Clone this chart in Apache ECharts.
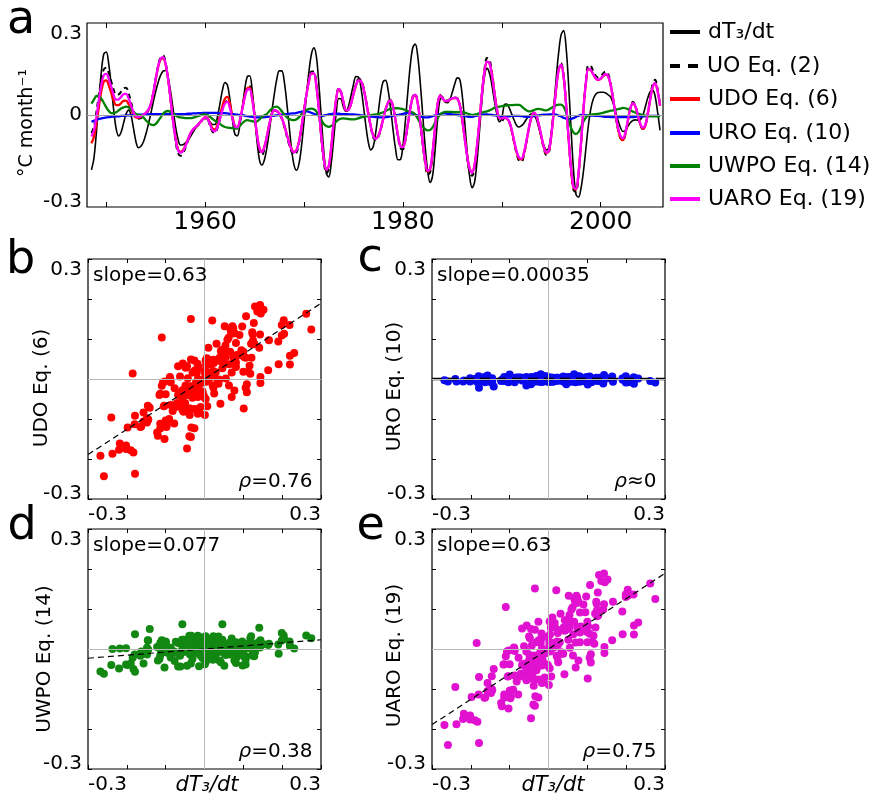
<!DOCTYPE html>
<html><head><meta charset="utf-8">
<script src="https://cdn.jsdelivr.net/npm/echarts@6/dist/echarts.min.js"></script>
<style>html,body{margin:0;padding:0;background:#fff}#c{width:872px;height:796px}</style>
</head><body><div id="c"></div>
<script>
// quarterly sampling grid: 1948.5, 1948.75, ... 2006.0
const FIRST_YEAR = 1948.5, STEP = 0.25, N = 231;

const dT3dt = [
-0.179,-0.141,
-0.057,0.046,0.141,0.199,
0.205,0.166,0.095,0.016,
-0.045,-0.068,-0.056,-0.026,
0.003,0.016,0.000,-0.043,
-0.087,-0.107,-0.102,-0.088,
-0.063,-0.031,0.004,0.042,
0.077,0.107,0.130,0.143,
0.145,0.123,0.077,0.021,
-0.037,-0.078,-0.098,-0.097,
-0.091,-0.082,-0.071,-0.057,
-0.044,-0.032,-0.021,-0.014,
-0.011,-0.013,-0.023,-0.031,
-0.031,-0.005,0.038,0.081,
0.106,0.098,0.051,-0.014,
-0.062,-0.068,-0.035,0.022,
0.083,0.125,0.128,0.082,
0.000,-0.087,-0.148,-0.163,
-0.145,-0.105,-0.050,0.013,
0.070,0.118,0.144,0.144,
0.109,0.041,-0.038,-0.114,
-0.165,-0.180,-0.157,-0.100,
-0.020,0.066,0.143,0.199,
0.219,0.190,0.100,-0.010,
-0.120,-0.190,-0.202,-0.157,
-0.077,0.006,0.054,0.052,
0.024,0.012,0.029,0.064,
0.100,0.125,0.124,0.090,
0.031,-0.035,-0.089,-0.114,
-0.103,-0.057,0.007,0.070,
0.109,0.113,0.081,0.023,
-0.048,-0.110,-0.146,-0.145,
-0.100,-0.018,0.077,0.164,
0.220,0.231,0.191,0.106,
0.001,-0.103,-0.183,-0.220,
-0.198,-0.116,-0.017,0.051,
0.055,0.043,0.040,0.050,
0.075,0.102,0.121,0.116,
0.063,-0.025,-0.122,-0.202,
-0.237,-0.218,-0.148,-0.049,
0.051,0.127,0.152,0.136,
0.097,0.046,0.002,-0.022,
-0.009,0.033,0.036,0.023,
0.003,-0.017,-0.034,-0.039,
-0.035,-0.026,-0.013,-0.002,
0.004,0.002,-0.015,-0.043,
-0.074,-0.099,-0.114,-0.107,
-0.058,0.024,0.120,0.204,
0.262,0.275,0.220,0.101,
-0.045,-0.179,-0.259,-0.268,
-0.240,-0.185,-0.110,-0.035,
0.020,0.052,0.068,0.073,
0.074,0.074,0.072,0.066,
0.059,0.039,0.012,-0.017,
-0.041,-0.054,-0.050,-0.037,
-0.025,-0.018,-0.016,-0.017,
-0.015,-0.002,0.025,0.055,
0.076,0.081,0.062,0.010,
-0.050];

const UO = [
-0.059,-0.038,
0.010,0.066,0.117,0.149,
0.154,0.137,0.110,0.082,
0.066,0.067,0.076,0.087,
0.089,0.072,0.043,0.013,
-0.008,-0.012,-0.010,-0.004,
0.003,0.014,0.035,0.073,
0.120,0.163,0.189,0.194,
0.171,0.120,0.050,-0.022,
-0.084,-0.124,-0.133,-0.126,
-0.108,-0.085,-0.063,-0.050,
-0.042,-0.035,-0.026,-0.015,
-0.009,-0.014,-0.036,-0.055,
-0.058,-0.042,-0.013,0.018,
0.040,0.046,0.025,-0.011,
-0.040,-0.044,-0.022,0.020,
0.062,0.092,0.094,0.058,
-0.003,-0.072,-0.120,-0.131,
-0.111,-0.074,-0.031,0.002,
0.015,0.012,0.003,-0.013,
-0.038,-0.069,-0.098,-0.121,
-0.130,-0.122,-0.091,-0.042,
0.014,0.071,0.117,0.142,
0.142,0.098,0.018,-0.076,
-0.152,-0.190,-0.177,-0.112,
-0.025,0.054,0.088,0.075,
0.041,0.014,0.016,0.037,
0.070,0.100,0.117,0.115,
0.092,0.051,0.004,-0.041,
-0.073,-0.083,-0.073,-0.048,
-0.014,0.019,0.043,0.050,
0.029,-0.019,-0.072,-0.109,
-0.112,-0.083,-0.031,0.023,
0.061,0.069,0.039,-0.024,
-0.096,-0.159,-0.195,-0.187,
-0.128,-0.042,0.034,0.066,
0.058,0.047,0.047,0.052,
0.056,0.057,0.055,0.034,
-0.018,-0.080,-0.143,-0.186,
-0.198,-0.171,-0.104,-0.017,
0.075,0.150,0.186,0.181,
0.140,0.076,0.017,-0.018,
-0.020,-0.010,-0.012,-0.023,
-0.053,-0.092,-0.127,-0.150,
-0.152,-0.129,-0.088,-0.043,
-0.007,0.008,-0.003,-0.035,
-0.074,-0.110,-0.130,-0.124,
-0.071,0.009,0.091,0.152,
0.169,0.129,0.037,-0.077,
-0.180,-0.245,-0.250,-0.198,
-0.099,0.015,0.110,0.162,
0.160,0.143,0.128,0.122,
0.126,0.136,0.142,0.135,
0.104,0.056,0.001,-0.047,
-0.076,-0.083,-0.062,-0.018,
0.024,0.043,0.031,0.000,
-0.031,-0.045,-0.036,0.003,
0.055,0.101,0.115,0.086,
0.034];

const UDO = [
-0.092,-0.072,
-0.028,0.027,0.078,0.109,
0.113,0.097,0.072,0.047,
0.032,0.032,0.039,0.046,
0.047,0.036,0.019,0.002,
-0.008,-0.009,-0.006,0.000,
0.006,0.016,0.035,0.070,
0.115,0.157,0.181,0.185,
0.164,0.117,0.052,-0.016,
-0.074,-0.111,-0.120,-0.115,
-0.100,-0.080,-0.060,-0.048,
-0.040,-0.033,-0.024,-0.014,
-0.007,-0.010,-0.028,-0.044,
-0.047,-0.031,-0.001,0.030,
0.053,0.059,0.037,-0.003,
-0.035,-0.040,-0.019,0.020,
0.060,0.087,0.089,0.056,
-0.002,-0.065,-0.109,-0.119,
-0.102,-0.068,-0.028,0.004,
0.016,0.013,0.005,-0.010,
-0.033,-0.062,-0.090,-0.112,
-0.120,-0.113,-0.084,-0.038,
0.015,0.068,0.111,0.135,
0.135,0.094,0.018,-0.070,
-0.142,-0.178,-0.166,-0.106,
-0.023,0.052,0.084,0.072,
0.040,0.015,0.017,0.037,
0.068,0.096,0.112,0.110,
0.088,0.049,0.005,-0.037,
-0.067,-0.077,-0.068,-0.045,
-0.013,0.018,0.041,0.048,
0.028,-0.017,-0.067,-0.101,
-0.104,-0.077,-0.029,0.022,
0.058,0.065,0.037,-0.022,
-0.090,-0.150,-0.184,-0.177,
-0.121,-0.040,0.033,0.063,
0.055,0.045,0.045,0.050,
0.054,0.055,0.053,0.033,
-0.016,-0.075,-0.134,-0.175,
-0.187,-0.161,-0.098,-0.016,
0.071,0.140,0.173,0.169,
0.131,0.073,0.021,-0.009,
-0.010,-0.008,-0.012,-0.022,
-0.050,-0.087,-0.121,-0.143,
-0.145,-0.123,-0.084,-0.041,
-0.007,0.007,-0.003,-0.033,
-0.070,-0.105,-0.124,-0.118,
-0.068,0.009,0.088,0.147,
0.163,0.124,0.036,-0.074,
-0.174,-0.237,-0.243,-0.192,
-0.096,0.014,0.104,0.150,
0.146,0.132,0.119,0.114,
0.118,0.127,0.132,0.126,
0.098,0.053,0.001,-0.045,
-0.074,-0.082,-0.060,-0.018,
0.021,0.038,0.028,0.000,
-0.030,-0.045,-0.036,0.001,
0.049,0.090,0.103,0.078,
0.030];

const URO = [
-0.022,-0.019,
-0.016,-0.013,-0.011,-0.009,
-0.008,-0.007,-0.006,-0.005,
-0.004,-0.004,-0.003,-0.003,
-0.002,-0.001,-0.001,0.000,
0.000,0.001,0.001,0.002,
0.002,0.002,0.003,0.003,
0.003,0.003,0.003,0.003,
0.003,0.003,0.003,0.003,
0.003,0.003,0.003,0.003,
0.003,0.004,0.004,0.005,
0.005,0.006,0.006,0.007,
0.007,0.007,0.007,0.007,
0.007,0.007,0.006,0.006,
0.006,0.005,0.004,0.003,
0.002,0.001,0.000,0.000,
-0.002,-0.004,-0.005,-0.006,
-0.007,-0.008,-0.008,-0.008,
-0.007,-0.006,-0.004,-0.003,
-0.002,-0.001,0.000,0.001,
0.002,0.003,0.004,0.005,
0.005,0.007,0.009,0.011,
0.012,0.012,0.010,0.007,
0.004,0.001,-0.002,-0.003,
-0.002,0.000,0.002,0.003,
0.004,0.004,0.004,0.003,
0.003,0.003,0.002,0.002,
0.002,0.001,0.000,-0.001,
-0.002,-0.003,-0.004,-0.005,
-0.006,-0.007,-0.007,-0.008,
-0.008,-0.007,-0.006,-0.004,
-0.003,-0.001,0.000,0.002,
0.004,0.006,0.007,0.006,
0.004,0.001,-0.002,-0.005,
-0.007,-0.008,-0.008,-0.006,
-0.004,-0.001,0.001,0.003,
0.005,0.005,0.004,0.003,
0.002,0.001,0.000,-0.001,
-0.002,-0.004,-0.005,-0.006,
-0.006,-0.004,-0.002,0.000,
0.001,0.002,0.002,0.001,
0.000,-0.001,-0.002,-0.003,
-0.004,-0.004,-0.004,-0.004,
-0.003,-0.003,-0.003,-0.003,
-0.004,-0.005,-0.006,-0.006,
-0.005,-0.004,-0.002,-0.001,
0.000,0.001,0.001,0.002,
0.002,0.002,0.001,-0.002,
-0.005,-0.009,-0.012,-0.014,
-0.013,-0.010,-0.006,-0.003,
0.000,0.000,-0.001,-0.001,
-0.002,-0.002,-0.003,-0.003,
-0.004,-0.005,-0.006,-0.006,
-0.007,-0.007,-0.007,-0.007,
-0.007,-0.007,-0.007,-0.007,
-0.007,-0.007,-0.006,-0.005,
-0.005,-0.004,-0.004,-0.003,
-0.003,-0.003,-0.003,-0.003,
-0.003];

const UWPO = [
0.037,0.050,
0.062,0.062,0.053,0.040,
0.025,0.013,0.006,0.006,
0.009,0.015,0.021,0.025,
0.027,0.025,0.018,0.010,
0.003,0.000,-0.002,-0.008,
-0.017,-0.025,-0.031,-0.033,
-0.029,-0.019,-0.008,0.004,
0.011,0.013,0.010,0.005,
-0.001,-0.006,-0.008,-0.009,
-0.010,-0.010,-0.010,-0.009,
-0.007,-0.004,-0.001,0.001,
0.002,0.000,-0.006,-0.013,
-0.019,-0.023,-0.029,-0.035,
-0.039,-0.041,-0.042,-0.043,
-0.044,-0.044,-0.036,-0.027,
-0.020,-0.017,-0.018,-0.020,
-0.022,-0.021,-0.014,-0.006,
-0.001,0.004,0.013,0.021,
0.026,0.027,0.022,0.012,
0.002,-0.007,-0.013,-0.016,
-0.017,-0.014,-0.007,0.002,
0.010,0.016,0.020,0.021,
0.019,0.011,-0.002,-0.017,
-0.029,-0.036,-0.039,-0.036,
-0.030,-0.022,-0.015,-0.012,
-0.011,-0.012,-0.013,-0.014,
-0.014,-0.013,-0.011,-0.008,
-0.006,-0.004,-0.003,0.000,
0.001,0.002,0.003,0.006,
0.009,0.013,0.017,0.020,
0.021,0.022,0.022,0.021,
0.019,0.016,0.013,0.010,
0.008,0.001,-0.012,-0.026,
-0.038,-0.046,-0.050,-0.049,
-0.040,-0.025,-0.010,0.001,
0.007,0.010,0.010,0.010,
0.010,0.009,0.009,0.009,
0.009,0.008,0.005,0.002,
0.000,0.001,0.003,0.006,
0.008,0.010,0.012,0.015,
0.019,0.023,0.025,0.027,
0.029,0.030,0.031,0.032,
0.032,0.033,0.033,0.033,
0.028,0.021,0.015,0.012,
0.013,0.016,0.019,0.020,
0.018,0.016,0.015,0.018,
0.023,0.028,0.032,0.034,
0.034,0.027,0.008,-0.018,
-0.042,-0.057,-0.062,-0.056,
-0.040,-0.022,-0.008,-0.001,
0.001,0.002,0.003,0.004,
0.005,0.007,0.010,0.012,
0.014,0.015,0.017,0.019,
0.021,0.023,0.022,0.019,
0.015,0.011,0.008,0.005,
0.002,0.000,-0.002,-0.003,
-0.004,-0.004,-0.004,-0.004,
-0.004];

const UARO = [
-0.070,-0.050,
-0.006,0.049,0.099,0.130,
0.134,0.118,0.092,0.065,
0.050,0.051,0.059,0.068,
0.069,0.055,0.032,0.009,
-0.005,-0.006,-0.004,0.001,
0.007,0.017,0.036,0.072,
0.118,0.160,0.185,0.189,
0.167,0.118,0.052,-0.017,
-0.076,-0.114,-0.123,-0.118,
-0.102,-0.081,-0.061,-0.048,
-0.040,-0.033,-0.024,-0.014,
-0.008,-0.012,-0.032,-0.050,
-0.053,-0.039,-0.012,0.017,
0.038,0.043,0.023,-0.010,
-0.037,-0.040,-0.020,0.019,
0.056,0.082,0.084,0.052,
-0.004,-0.066,-0.110,-0.121,
-0.103,-0.069,-0.028,0.004,
0.016,0.013,0.005,-0.010,
-0.034,-0.063,-0.092,-0.114,
-0.122,-0.114,-0.085,-0.038,
0.015,0.068,0.112,0.136,
0.136,0.094,0.017,-0.071,
-0.143,-0.178,-0.166,-0.105,
-0.022,0.053,0.085,0.073,
0.040,0.015,0.017,0.037,
0.068,0.097,0.113,0.111,
0.088,0.048,0.004,-0.038,
-0.068,-0.078,-0.069,-0.046,
-0.013,0.018,0.041,0.048,
0.027,-0.018,-0.068,-0.102,
-0.105,-0.078,-0.029,0.022,
0.059,0.066,0.037,-0.022,
-0.090,-0.149,-0.182,-0.175,
-0.120,-0.039,0.034,0.063,
0.055,0.046,0.046,0.051,
0.055,0.056,0.054,0.033,
-0.016,-0.076,-0.135,-0.176,
-0.188,-0.162,-0.098,-0.015,
0.072,0.141,0.174,0.170,
0.131,0.072,0.019,-0.010,
-0.011,-0.008,-0.011,-0.021,
-0.048,-0.085,-0.118,-0.139,
-0.142,-0.121,-0.083,-0.040,
-0.006,0.008,-0.002,-0.032,
-0.069,-0.104,-0.122,-0.117,
-0.067,0.010,0.089,0.148,
0.164,0.125,0.036,-0.074,
-0.173,-0.235,-0.240,-0.190,
-0.095,0.015,0.105,0.151,
0.147,0.133,0.120,0.115,
0.119,0.128,0.133,0.127,
0.099,0.054,0.003,-0.041,
-0.068,-0.076,-0.056,-0.016,
0.022,0.039,0.029,0.001,
-0.028,-0.041,-0.033,0.003,
0.050,0.091,0.104,0.079,
0.031];

const seriesNames = ['dT\u2083/dt', 'UO Eq. (2)', 'UDO Eq. (6)', 'URO Eq. (10)', 'UWPO Eq. (14)', 'UARO Eq. (19)'];
const yearTicks = [1950, 1960, 1970, 1980, 1990, 2000];
const yearLabels = [1960, 1980, 2000];
const aYLabels = [-0.3, 0, 0.3];
const scatterLabels = [-0.3, 0.3];
const slopes = [0.63, 0.00035, 0.077, 0.63];
const slopeTexts = ['slope=0.63', 'slope=0.00035', 'slope=0.077', 'slope=0.63'];
const rhoTexts = ['=0.76', '\u22480', '=0.38', '=0.75'];
const scatterYNames = ['UDO Eq. (6)', 'URO Eq. (10)', 'UWPO Eq. (14)', 'UARO Eq. (19)'];
const xName = 'dT\u2083/dt';
const aYName = '\u00B0C month\u207B\u00B9';
const letters = ['a', 'b', 'c', 'd', 'e'];

[dT3dt, UO, UDO, URO, UWPO, UARO].forEach((a, i) => {
  if (a.length !== N) throw new Error('series ' + i + ' has length ' + a.length);
});

const FONT = "'DejaVu Sans', sans-serif";
const times = Array.from({length: N}, (_, i) => FIRST_YEAR + STEP * i);
const r1 = v => Math.round(v * 10) / 10;
const edgeFmt = v => v > 0.25 ? '{t|' + r1(v) + '}' : (v < -0.25 ? '{b|' + r1(v) + '}' : String(r1(v)));
const edgeRich = {
  t: {fontSize: 20, fontFamily: FONT, color: '#000', lineHeight: 21},
  b: {fontSize: 20, fontFamily: FONT, color: '#000', lineHeight: 11}
};

const lineSeriesData = [dT3dt, UO, UDO, URO, UWPO, UARO];
const lineColors = ['#000000', '#000000', '#ff0000', '#0000ff', '#008000', '#ff00ff'];
const lineWidths = [1.6, 2, 2.3, 2.3, 2.3, 2.3];
const lineTypes = ['solid', [5, 4], 'solid', 'solid', 'solid', 'solid'];

const scatterY = [UDO, URO, UWPO, UARO];
const scatterColors = ['#ff0000', '#0a0aee', '#128812', '#e012d0'];
const boxes = [[88, 259], [432, 259], [88, 529], [432, 529]];
const BW = 233, BH = 240;

const grids = [{left: 87, top: 23, width: 576, height: 184, show: true, borderColor: '#000', borderWidth: 1.2}]
  .concat(boxes.map(b => ({left: b[0], top: b[1], width: BW, height: BH, show: true, borderColor: '#000', borderWidth: 1.2})));

const baseText = {fontFamily: FONT, color: '#000'};
const noLine = {show: false, onZero: false};

const xAxes = [
  {gridIndex: 0, type: 'value', min: 1948.05, max: 2006.3, position: 'bottom',
   axisLine: noLine, splitLine: {show: false},
   axisTick: {show: true, inside: true, length: 5, customValues: yearTicks, lineStyle: {color: '#000'}},
   axisLabel: Object.assign({show: true, customValues: yearLabels, formatter: v => String(v), fontSize: 25, margin: 3}, baseText)},
  {gridIndex: 0, type: 'value', min: 1948.05, max: 2006.3, position: 'top',
   axisLine: noLine, splitLine: {show: false},
   axisTick: {show: true, inside: true, length: 5, customValues: yearTicks, lineStyle: {color: '#000'}},
   axisLabel: {show: false}}
];
const yAxes = [
  {gridIndex: 0, type: 'value', min: -0.3, max: 0.3, position: 'left',
   axisLine: noLine, splitLine: {show: false}, axisTick: {show: false},
   axisLabel: Object.assign({show: true, customValues: aYLabels, formatter: edgeFmt, rich: edgeRich,
     verticalAlignMinLabel: 'bottom', verticalAlignMaxLabel: 'top', fontSize: 20, margin: 5}, baseText)}
];
for (let k = 0; k < 4; k++) {
  ['bottom', 'top'].forEach(pos => xAxes.push({
    gridIndex: 1 + k, type: 'value', position: pos, min: -0.3, max: 0.3, interval: 0.1,
    axisLine: noLine, splitLine: {show: false},
    axisTick: {show: true, inside: true, length: 4, lineStyle: {color: '#000'}},
    axisLabel: pos === 'bottom' ? Object.assign({show: true, customValues: scatterLabels, formatter: v => String(r1(v)),
      alignMinLabel: 'left', alignMaxLabel: 'right', fontSize: 20, margin: 6}, baseText) : {show: false}
  }));
  ['left', 'right'].forEach(pos => yAxes.push({
    gridIndex: 1 + k, type: 'value', position: pos, min: -0.3, max: 0.3, interval: 0.1,
    axisLine: noLine, splitLine: {show: false},
    axisTick: {show: true, inside: true, length: 4, lineStyle: {color: '#000'}},
    axisLabel: pos === 'left' ? Object.assign({show: true, customValues: scatterLabels, formatter: edgeFmt, rich: edgeRich,
      verticalAlignMinLabel: 'bottom', verticalAlignMaxLabel: 'top', fontSize: 20, margin: 6}, baseText) : {show: false}
  }));
}

const series = [];
series.push({type: 'line', xAxisIndex: 0, yAxisIndex: 0, data: [], z: 1, silent: true,
  markLine: {silent: true, symbol: 'none', label: {show: false}, animation: false,
    lineStyle: {color: '#9c9c9c', width: 1, type: 'solid'}, data: [{yAxis: 0}]}});
lineSeriesData.forEach((arr, i) => series.push({
  name: seriesNames[i], type: 'line', xAxisIndex: 0, yAxisIndex: 0, z: 2,
  data: times.map((t, j) => [t, arr[j]]), symbol: 'none', smooth: 0.35, silent: true,
  lineStyle: {color: lineColors[i], width: lineWidths[i], type: lineTypes[i]},
  itemStyle: {color: lineColors[i]}
}));
for (let k = 0; k < 4; k++) {
  const xi = 2 + 2 * k, yi = 1 + 2 * k;
  series.push({type: 'line', xAxisIndex: xi, yAxisIndex: yi, data: [], z: 1, silent: true,
    markLine: {silent: true, symbol: 'none', label: {show: false}, animation: false,
      lineStyle: {color: '#b8b8b8', width: 1, type: 'solid'}, data: [{xAxis: 0}, {yAxis: 0}]}});
  series.push({name: 'scatter' + k, type: 'scatter', xAxisIndex: xi, yAxisIndex: yi, z: 2, silent: true,
    data: times.map((t, j) => [dT3dt[j], scatterY[k][j]]), symbolSize: 8,
    itemStyle: {color: scatterColors[k], opacity: 1}});
  series.push({name: 'fit' + k, type: 'line', xAxisIndex: xi, yAxisIndex: yi, z: 3, silent: true,
    data: [[-0.3, -0.3 * slopes[k]], [0.3, 0.3 * slopes[k]]], symbol: 'none',
    lineStyle: {color: '#000', width: k === 1 ? 2.6 : 1.2, type: k === 1 ? [10, 6] : [6, 4]}});
}

const legends = seriesNames.map((n, i) => ({
  left: 670, top: Math.round(32.3 + i * 33.4 - 11), orient: 'vertical', selectedMode: false,
  itemWidth: 30, itemHeight: 4, itemGap: 0, padding: 0,
  data: [{name: n, icon: i === 1 ? 'path://M0,0h10v4h-10z M18,0h10v4h-10z' : 'rect'}],
  textStyle: Object.assign({fontSize: 22, padding: [0, 0, 0, 3]}, baseText)
}));

const graphic = [];
const txt = (x, y, text, size, extra) => graphic.push(Object.assign({type: 'text', x: x, y: y, z: 100, silent: true,
  style: Object.assign({text: text, fontSize: size, fontFamily: FONT, fill: '#000', align: 'left', verticalAlign: 'middle'}, extra && extra.style || {})},
  extra && extra.rotation ? {rotation: extra.rotation} : {}));

const letterPos = [[7, 20.8], [6, 260.8], [357.5, 259.1], [7.5, 527.3], [356.5, 527.3]];
letters.forEach((l, i) => txt(letterPos[i][0], letterPos[i][1], l, 46));
// axis titles
txt(27.5, 123, aYName, 19, {rotation: Math.PI / 2, style: {align: 'center'}});
const yNamePos = [[42, 388], [395, 386.5], [45, 659], [395, 655.5]];
scatterYNames.forEach((n, k) => txt(yNamePos[k][0], yNamePos[k][1], n, 20, {rotation: Math.PI / 2, style: {align: 'center'}}));
[[207, 786], [553, 786]].forEach(p => txt(p[0], p[1], xName, 21, {style: {align: 'center', fontStyle: 'italic'}}));
boxes.forEach((b, k) => {
  txt(b[0] + 5, b[1] + 17, slopeTexts[k], 20);
  txt(b[0] + BW - 8.5, b[1] + BH - 17, '{i|\u03C1}{n|' + rhoTexts[k] + '}', 20, {style: {align: 'right',
    rich: {i: {fontSize: 20, fontFamily: FONT, fontStyle: 'italic', fill: '#000'}, n: {fontSize: 20, fontFamily: FONT, fill: '#000'}}}});
});

const chart = echarts.init(document.getElementById('c'), null, {renderer: 'canvas'});
chart.setOption({
  animation: false,
  backgroundColor: '#ffffff',
  textStyle: {fontFamily: FONT},
  grid: grids,
  xAxis: xAxes,
  yAxis: yAxes,
  legend: legends,
  series: series,
  graphic: graphic
});
</script>
</body></html>
